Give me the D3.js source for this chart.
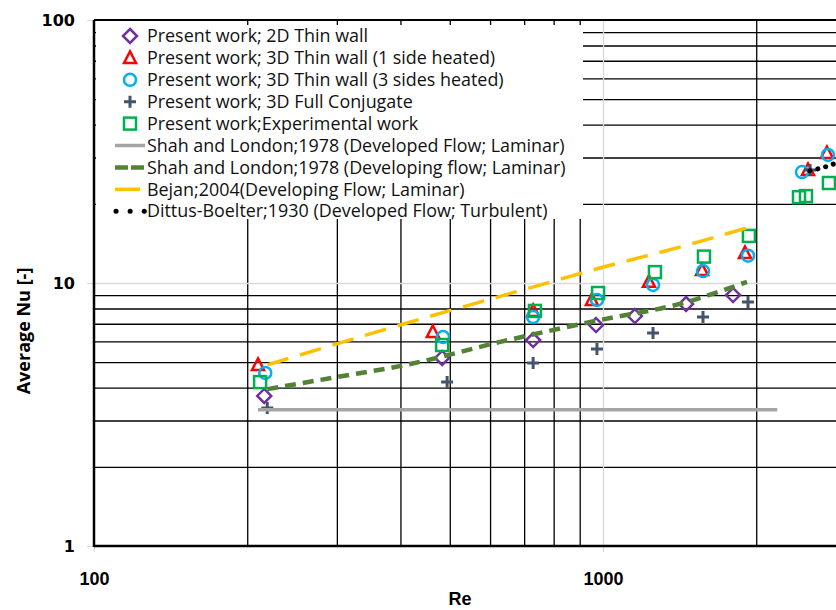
<!DOCTYPE html>
<html>
<head>
<meta charset="utf-8">
<script src="https://cdn.jsdelivr.net/npm/d3@7"></script>
<style>
  body { margin: 0; background: #fff; }
  svg { display: block; }
</style>
</head>
<body>
<svg id="chart" width="836" height="610"></svg>
<script>
// ---- data ----
const reThin2D = [216, 483, 729, 969, 1155, 1456, 1801];
const nuThin2D = [3.72, 5.19, 6.07, 6.92, 7.49, 8.32, 9.00];

const reThin1 = [210, 463, 729, 951, 1231, 1565, 1901, 2528, 2754];
const nuThin1 = [4.88, 6.51, 7.83, 8.62, 10.1, 11.2, 13.0, 26.9, 31.2];

const reThin3 = [217, 485, 729, 973, 1254, 1572, 1927, 2460, 2767];
const nuThin3 = [4.55, 6.23, 7.42, 8.62, 9.83, 11.1, 12.7, 26.4, 30.7];

const reConj = [219, 494, 729, 973, 1254, 1572, 1927, 2551];
const nuConj = [3.35, 4.20, 4.96, 5.61, 6.45, 7.42, 8.47, 26.9];

const reExp = [212, 483, 735, 978, 1265, 1579, 1935, 2427, 2505, 2779];
const nuExp = [4.20, 5.81, 7.83, 9.16, 11.0, 12.6, 15.1, 21.2, 21.4, 24.0];

const reShahFull = [210, 2200];
const nuShahFull = [3.30, 3.30];

const reShahDev = [219, 300, 418, 628, 986, 1436, 1918];
const nuShahDev = [3.95, 4.39, 4.92, 5.97, 7.23, 8.39, 10.1];

const reBejan = [219, 399, 805, 986, 1436, 1918];
const nuBejan = [4.88, 6.92, 10.2, 11.4, 13.8, 16.2];

const reDittus = [2550, 2805, 3000];
const nuDittus = [26.7, 28.1, 29.7];

const xMinorTicks = [200, 300, 400, 500, 600, 700, 800, 900, 2000, 3000, 4000, 5000, 6000, 7000, 8000, 9000];
const xMajorTicks = [100, 1000];
const yMinorTicks = [2, 3, 4, 5, 6, 7, 8, 9, 20, 30, 40, 50, 60, 70, 80, 90];
const yMajorTicks = [1, 10, 100];

const zip = (xs, ys) => xs.map((v, i) => ({ re: v, nu: ys[i] }));

const series = [
  { name: "Present work; 2D Thin wall", type: "diamond", color: "#7030A0", data: zip(reThin2D, nuThin2D) },
  { name: "Present work; 3D Thin wall (1 side heated)", type: "triangle", color: "#FF0000", data: zip(reThin1, nuThin1) },
  { name: "Present work; 3D Thin wall (3 sides heated)", type: "circle", color: "#00B0F0", data: zip(reThin3, nuThin3) },
  { name: "Present work; 3D Full Conjugate", type: "cross", color: "#44546A", data: zip(reConj, nuConj) },
  { name: "Present work;Experimental work", type: "square", color: "#00B050", data: zip(reExp, nuExp) },
  { name: "Shah and London;1978 (Developed Flow; Laminar)", type: "line", color: "#A5A5A5", width: 3.5, dash: null, data: zip(reShahFull, nuShahFull) },
  { name: "Shah and London;1978 (Developing flow; Laminar)", type: "line", color: "#548235", width: 4.5, dash: "11 7", data: zip(reShahDev, nuShahDev) },
  { name: "Bejan;2004(Developing Flow; Laminar)", type: "line", color: "#FFC000", width: 3.5, dash: "22 12", data: zip(reBejan, nuBejan) },
  { name: "Dittus-Boelter;1930 (Developed Flow; Turbulent)", type: "line", color: "#000000", width: 5, dash: "0.1 8", cap: "round", data: zip(reDittus, nuDittus) }
];

// ---- layout ----
const mLeft = 94, mTop = 20, mBottom = 546;
const svg = d3.select("#chart");

const x = d3.scaleLog().domain([100, 10000]).range([mLeft, mLeft + 1018]);
const y = d3.scaleLog().domain([1, 100]).range([mBottom, mTop]);

// gridlines
const grid = svg.append("g");
grid.append("g")
    .attr("transform", `translate(0,${mBottom})`)
    .call(d3.axisBottom(x).tickValues(xMinorTicks).tickSize(-(mBottom - mTop)).tickFormat(""))
    .call(g => g.select(".domain").remove())
    .selectAll("line").attr("stroke", "#000").attr("stroke-width", 1.3);
grid.append("g")
    .attr("transform", `translate(${mLeft},0)`)
    .call(d3.axisLeft(y).tickValues(yMinorTicks).tickSize(-1100).tickFormat(""))
    .call(g => g.select(".domain").remove())
    .selectAll("line").attr("stroke", "#000").attr("stroke-width", 1.3);
grid.append("g")
    .attr("transform", `translate(0,${mBottom})`)
    .call(d3.axisBottom(x).tickValues([1000]).tickSize(-(mBottom - mTop)).tickFormat(""))
    .call(g => g.select(".domain").remove())
    .selectAll("line").attr("stroke", "#D9D9D9").attr("stroke-width", 1.3);
grid.append("g")
    .attr("transform", `translate(${mLeft},0)`)
    .call(d3.axisLeft(y).tickValues([10]).tickSize(-1100).tickFormat(""))
    .call(g => g.select(".domain").remove())
    .selectAll("line").attr("stroke", "#D9D9D9").attr("stroke-width", 1.3);

// legend background hides the grid behind it
svg.append("rect")
    .attr("x", 96).attr("y", 25)
    .attr("width", 487).attr("height", 194)
    .attr("fill", "#fff");

// axes with labels
const xAxis = svg.append("g")
    .attr("transform", `translate(0,${mBottom})`)
    .call(d3.axisBottom(x).tickValues(xMajorTicks).tickSize(6).tickPadding(20).tickFormat(d3.format("d")));
xAxis.select(".domain").remove();
xAxis.selectAll("line").attr("stroke", "#D9D9D9");
xAxis.selectAll("text")
    .attr("fill", "#000")
    .style("font-family", "'Liberation Sans Narrow', 'Arial Narrow', sans-serif")
    .style("font-weight", "bold")
    .style("font-size", "18px");

const yAxis = svg.append("g")
    .attr("transform", `translate(${mLeft},0)`)
    .call(d3.axisLeft(y).tickValues(yMajorTicks).tickSize(7).tickPadding(12).tickFormat(d3.format("d")));
yAxis.select(".domain").remove();
yAxis.selectAll("line").attr("stroke", "#D9D9D9");
yAxis.selectAll("text")
    .attr("fill", "#000")
    .style("font-family", "'DejaVu Sans', sans-serif")
    .style("font-weight", "bold")
    .style("font-size", "16px");

// frame
svg.append("line").attr("x1", mLeft).attr("x2", mLeft).attr("y1", mTop).attr("y2", mBottom + 1)
    .attr("stroke", "#000").attr("stroke-width", 2.5);
svg.append("line").attr("x1", mLeft).attr("x2", 836).attr("y1", mBottom).attr("y2", mBottom)
    .attr("stroke", "#000").attr("stroke-width", 2.5);
svg.append("line").attr("x1", mLeft).attr("x2", 836).attr("y1", mTop).attr("y2", mTop)
    .attr("stroke", "#000").attr("stroke-width", 2);

// axis titles
svg.append("text")
    .attr("transform", "translate(30,331) rotate(-90)")
    .attr("text-anchor", "middle")
    .style("font-family", "'Open Sans', sans-serif")
    .style("font-weight", "bold")
    .style("font-size", "18px")
    .text("Average  Nu [-]");
svg.append("text")
    .attr("x", 460).attr("y", 605)
    .attr("text-anchor", "middle")
    .style("font-family", "'Liberation Sans Narrow', 'Arial Narrow', sans-serif")
    .style("font-weight", "bold")
    .style("font-size", "18px")
    .text("Re");

// markers
function drawMarker(g, type, color) {
    if (type === "diamond") {
        g.append("path").attr("d", "M0,-7L7,0L0,7L-7,0Z")
            .attr("fill", "none").attr("stroke", color).attr("stroke-width", 2.5);
    } else if (type === "triangle") {
        g.append("path").attr("d", "M0,-6.5L6,5L-6,5Z")
            .attr("fill", "none").attr("stroke", color).attr("stroke-width", 2.5);
    } else if (type === "circle") {
        g.append("circle").attr("r", 6)
            .attr("fill", "none").attr("stroke", color).attr("stroke-width", 2.5);
    } else if (type === "cross") {
        g.append("path").attr("d", "M-6,0H6M0,-6V6")
            .attr("fill", "none").attr("stroke", color).attr("stroke-width", 3);
    } else if (type === "square") {
        g.append("rect").attr("x", -6).attr("y", -6).attr("width", 12).attr("height", 12)
            .attr("fill", "none").attr("stroke", color).attr("stroke-width", 2.5);
    }
}

svg.append("clipPath").attr("id", "plot-clip")
    .append("rect").attr("x", mLeft).attr("y", mTop).attr("width", 1018).attr("height", mBottom - mTop);

const plot = svg.append("g").attr("clip-path", "url(#plot-clip)");

const lineGen = d3.line()
    .x(d => x(d.re))
    .y(d => y(d.nu))
    .curve(d3.curveMonotoneX);

series.forEach(s => {
    if (s.type === "line") {
        plot.append("path")
            .attr("d", lineGen(s.data))
            .attr("fill", "none")
            .attr("stroke", s.color)
            .attr("stroke-width", s.width)
            .attr("stroke-dasharray", s.dash)
            .attr("stroke-linecap", s.cap || "butt");
    } else {
        plot.selectAll(null)
            .data(s.data)
            .enter().append("g")
            .attr("transform", d => `translate(${x(d.re)},${y(d.nu)})`)
            .each(function () { drawMarker(d3.select(this), s.type, s.color); });
    }
});

// legend
const legend = svg.append("g")
    .style("font-family", "'Open Sans', sans-serif")
    .style("font-size", "17.9px");

series.forEach((s, i) => {
    const row = legend.append("g").attr("transform", `translate(0,${36 + i * 21.9})`);
    if (s.type === "line") {
        if (s.cap === "round") {
            row.append("line").attr("x1", 116).attr("x2", 146).attr("y1", 0).attr("y2", 0)
                .attr("stroke", s.color).attr("stroke-width", 5)
                .attr("stroke-dasharray", "0.1 14").attr("stroke-linecap", "round");
        } else {
            row.append("line").attr("x1", 115).attr("x2", s.dash === "22 12" ? 140 : 145).attr("y1", 0).attr("y2", 0)
                .attr("stroke", s.color).attr("stroke-width", s.width)
                .attr("stroke-dasharray", s.dash === "11 7" ? "13 3" : null);
        }
    } else {
        const m = row.append("g").attr("transform", "translate(130,0)");
        drawMarker(m, s.type, s.color);
    }
    row.append("text")
        .attr("x", 147).attr("y", 0).attr("dy", "0.35em")
        .attr("fill", "#111")
        .text(s.name);
});
</script>
</body>
</html>
